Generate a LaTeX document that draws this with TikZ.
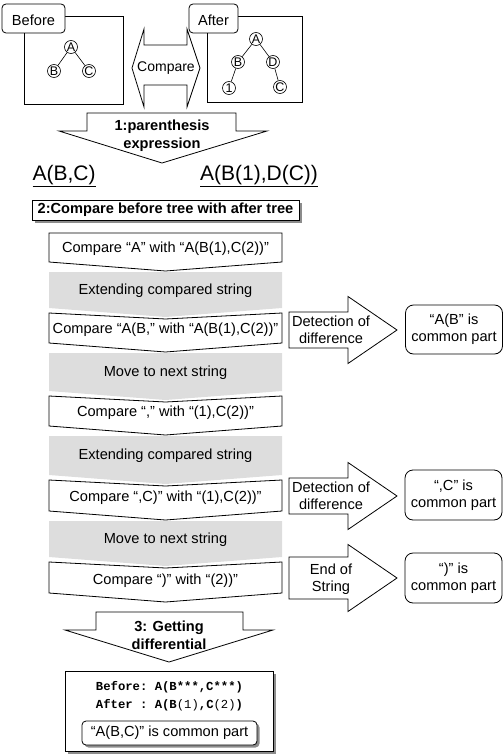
\documentclass[tikz,border=0pt]{standalone}
\usepackage{fontspec}
\setmainfont{Liberation Sans}
\setmonofont{Liberation Mono}
\usetikzlibrary{shadows}
\definecolor{band}{RGB}{221,221,221}
\begin{document}
\begin{tikzpicture}[x=1pt,y=-1pt,line width=0.8pt,
  every node/.style={font=\fontsize{14.6}{17}\selectfont,inner sep=0pt,align=center},
  tc/.style={circle,draw,line width=0.6pt,minimum size=13pt,inner sep=0pt,font=\fontsize{12.5}{12.5}\selectfont},
  tl/.style={line width=0.6pt},
  lbl/.style={draw,fill=white,rounded corners=4pt},
  chev/.style={draw,fill=white},
  gband/.style={fill=band},
  shd/.style={drop shadow={shadow xshift=2.5pt,shadow yshift=-2.5pt,fill=black!45,opacity=1}},
  rbox/.style={draw,rounded corners=8pt,minimum width=97pt,minimum height=49pt},
  bigu/.style={font=\fontsize{21}{24}\selectfont}]
\useasboundingbox (0,0) rectangle (503,754);

% Before box
\draw (24,16) rectangle (123,104);
\node[lbl,minimum width=63pt,minimum height=29pt] (lbB) at (33.5,18.5) {};
\node (lbBt) at (33.5,20) {Before};
\node[tc] (bA) at (71,47) {A};
\node[tc] (bB) at (54,71) {B};
\node[tc] (bC) at (89,71) {C};
\draw[tl] (bA) -- (bB);
\draw[tl] (bA) -- (bC);

% After box
\draw (207,16) rectangle (302,102);
\node[lbl,minimum width=49pt,minimum height=29pt] (lbA) at (213.5,18.5) {};
\node (lbAt) at (213.5,20) {After};
\node[tc] (aA) at (256,39) {A};
\node[tc] (aB) at (238,62) {B};
\node[tc] (aD) at (273,62) {D};
\node[tc] (a1) at (229,88) {1};
\node[tc] (aC) at (280,87) {C};
\draw[tl] (aA) -- (aB);
\draw[tl] (aA) -- (aD);
\draw[tl] (aB) -- (a1);
\draw[tl] (aD) -- (aC);

% Compare double arrow
\draw (132,68) -- (144,29) -- (144,45) -- (187,45) -- (187,29) -- (200,68)
  -- (187,107) -- (187,85) -- (144,85) -- (144,107) -- cycle;
\node[font=\fontsize{14}{16}\selectfont] (cmp) at (166,68) {Compare};

% Arrow 1
\draw (87,113) -- (236,113) -- (236,131) -- (267,131) -- (162,163) -- (59,131) -- (87,131) -- cycle;
\node[font=\fontsize{14.6}{18}\selectfont\bfseries] (s1) at (162,136) {1:parenthesis\\expression};

% parenthesis expressions
\node[bigu] (pb) at (64,176) {\underline{A(B,C)}};
\node[bigu] (pa) at (259,176) {\underline{A(B(1),D(C))}};

% step 2 box
\node[draw,fill=white,shd,minimum width=267pt,minimum height=20pt,font=\fontsize{14.6}{17}\selectfont\bfseries] (s2) at (165.5,210) {2:Compare before tree with after tree};

% gray bands
\fill[band] (49,272) -- (282,272) -- (282,308) -- (165.5,317) -- (49,308) -- cycle;
\fill[band] (49,353) -- (282,353) -- (282,391) -- (165.5,400) -- (49,391) -- cycle;
\fill[band] (49,436) -- (282,436) -- (282,475) -- (165.5,484) -- (49,475) -- cycle;
\fill[band] (49,521) -- (282,521) -- (282,557) -- (165.5,566) -- (49,557) -- cycle;
\node (g1) at (165.5,291) {Extending compared string};
\node (g2) at (165.5,373) {Move to next string};
\node (g3) at (165.5,456) {Extending compared string};
\node (g4) at (165.5,540) {Move to next string};

% white chevrons
\draw[chev] (49,233) -- (282,233) -- (282,262) -- (165.5,271) -- (49,262) -- cycle;
\draw[chev] (49,313) -- (165.5,319) -- (282,313) -- (282,343) -- (165.5,352) -- (49,343) -- cycle;
\draw[chev] (49,396) -- (165.5,402) -- (282,396) -- (282,426) -- (165.5,435) -- (49,426) -- cycle;
\draw[chev] (49,480) -- (165.5,486) -- (282,480) -- (282,511) -- (165.5,520) -- (49,511) -- cycle;
\draw[chev] (49,562) -- (165.5,568) -- (282,562) -- (282,593) -- (165.5,602) -- (49,593) -- cycle;
\node (c1) at (165.5,249) {Compare “A” with “A(B(1),C(2))”};
\node (c2) at (165.5,330) {Compare “A(B,” with “A(B(1),C(2))”};
\node (c3) at (165.5,413) {Compare “,” with “(1),C(2))”};
\node (c4) at (165.5,498) {Compare “,C)” with “(1),C(2))”};
\node (c5) at (165.5,581) {Compare “)” with “(2))”};

% right arrows
\draw (289,312) -- (348,312) -- (348,296.5) -- (397,330) -- (348,363.5) -- (348,348) -- (289,348) -- cycle;
\node (d1) at (331,330) {Detection of\\difference};
\draw (289,478) -- (348,478) -- (348,462.5) -- (397,496) -- (348,529.5) -- (348,514) -- (289,514) -- cycle;
\node (d2) at (331,496) {Detection of\\difference};
\draw (289,557) -- (348,557) -- (348,544.5) -- (397,578) -- (348,611.5) -- (348,599) -- (289,599) -- cycle;
\node (d3) at (331,579) {End of\\String};

% result boxes
\node[rbox] (r1) at (454,329.5) {“A(B” is\\common part};
\node[rbox,minimum height=50pt] (r2) at (453.5,495) {“,C” is\\common part};
\node[rbox,minimum height=50pt] (r3) at (453.5,578) {“)” is\\common part};

% Arrow 3
\draw (96,612) -- (243,612) -- (243,630) -- (273,630) -- (169,662) -- (65,630) -- (96,630) -- cycle;
\node[font=\fontsize{14.6}{18}\selectfont\bfseries] (s3) at (169,635) {3: Getting\\differential};

% final box
\node[draw,fill=white,shd,minimum width=208pt,minimum height=80pt] (fin) at (169,711) {};
\node[font=\fontsize{12.25}{18}\selectfont\ttfamily] (code) at (169.5,696)
  {\textbf{Before: A(B***,C***)}\\\textbf{After : A(B}(1)\textbf{,C}(2)\textbf{)}};
\node[draw,fill=white,shd,rounded corners=4pt,minimum width=175pt,minimum height=24pt] (cp) at (169.5,733) {“A(B,C)” is common part};
\end{tikzpicture}
\end{document}
